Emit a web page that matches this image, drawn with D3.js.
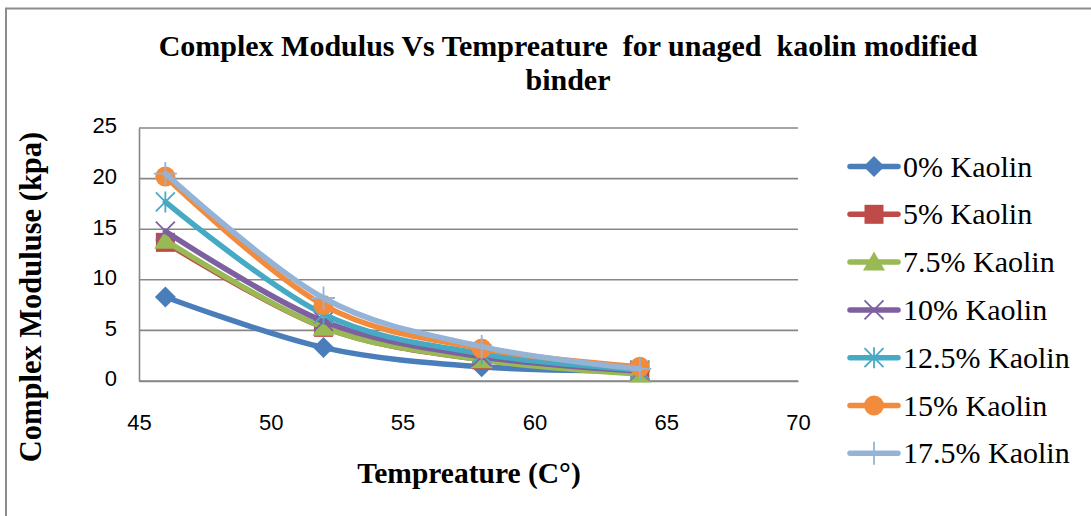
<!DOCTYPE html>
<html>
<head>
<meta charset="utf-8">
<script src="https://cdn.jsdelivr.net/npm/d3@7/dist/d3.min.js"></script>
<style>
  html, body { margin: 0; padding: 0; background: #fff; }
  svg { display: block; }
</style>
</head>
<body>
<svg id="chart" width="1091" height="516"></svg>
<script>
// Test temperatures (°C)
const temperatures = [46, 52, 58, 64];

// Series names
const seriesNames = ["0% Kaolin", "5% Kaolin", "7.5% Kaolin", "10% Kaolin",
                     "12.5% Kaolin", "15% Kaolin", "17.5% Kaolin"];

// Complex modulus (kPa) per series, one value per temperature
const kaolin0   = [8.3, 3.3, 1.4, 1.0];
const kaolin5   = [13.7, 5.3, 2.1, 0.9];
const kaolin75  = [13.9, 5.3, 2.1, 0.7];
const kaolin10  = [14.8, 5.9, 2.4, 1.0];
const kaolin125 = [17.7, 6.6, 2.7, 1.1];
const kaolin15  = [20.2, 7.5, 3.2, 1.4];
const kaolin175 = [20.5, 8.2, 3.4, 1.2];

// Axis tick labels
const xTicks = [45, 50, 55, 60, 65, 70];
const yTicks = [0, 5, 10, 15, 20, 25];

const seriesValues = [kaolin0, kaolin5, kaolin75, kaolin10, kaolin125, kaolin15, kaolin175];
const colors  = ["#4A7EBB", "#BE4B48", "#98B954", "#7D60A0", "#46AAC5", "#F38B3C", "#95B3D7"];
const symbols = ["diamond", "square", "triangle", "x", "star", "circle", "plus"];

const svg = d3.select("#chart");
const W = 1091, H = 516;
const plot = { left: 139, right: 798, top: 128, bottom: 381 };

// Outer chart frame
svg.append("rect")
  .attr("x", 6).attr("y", 8.5)
  .attr("width", W + 20).attr("height", H + 20)
  .attr("fill", "#fff").attr("stroke", "#8c8c8c").attr("stroke-width", 2);

const x = d3.scaleLinear().domain([45, 70]).range([plot.left, plot.right]);
const y = d3.scaleLinear().domain([0, 25]).range([plot.bottom, plot.top]);

// Horizontal gridlines
svg.append("g").selectAll("line").data(yTicks).join("line")
  .attr("x1", plot.left).attr("x2", plot.right)
  .attr("y1", d => y(d)).attr("y2", d => y(d))
  .attr("stroke", "#878787").attr("stroke-width", 1.6);

// Axes (labels only, no tick marks)
const gx = svg.append("g").attr("transform", `translate(0,${plot.bottom})`)
  .call(d3.axisBottom(x).tickValues(xTicks).tickSize(0).tickPadding(33));
const gy = svg.append("g").attr("transform", `translate(${plot.left},0)`)
  .call(d3.axisLeft(y).tickValues(yTicks).tickSize(0).tickPadding(22));
[gx, gy].forEach(g => {
  g.select(".domain").attr("stroke", "#878787").attr("stroke-width", 1.6);
  g.selectAll("text")
    .attr("font-family", "'Liberation Sans', Arial, sans-serif")
    .attr("font-size", 22).attr("fill", "#000");
});
gy.selectAll("text").attr("dy", "0.22em");

// Marker drawing
function drawMarker(g, type, color, s) {
  s = s || 1;
  if (type === "diamond") {
    g.append("path").attr("d", `M0,${-10.5*s}L${10.5*s},0L0,${10.5*s}L${-10.5*s},0Z`).attr("fill", color);
  } else if (type === "square") {
    g.append("rect").attr("x", -9.5*s).attr("y", -9.5*s).attr("width", 19*s).attr("height", 19*s).attr("fill", color);
  } else if (type === "triangle") {
    g.append("path").attr("d", `M0,${-10.5*s}L${11*s},${8.5*s}L${-11*s},${8.5*s}Z`).attr("fill", color);
  } else if (type === "circle") {
    g.append("circle").attr("r", 10*s).attr("fill", color);
  } else if (type === "x") {
    g.append("path").attr("d", `M${-9.5*s},${-9.5*s}L${9.5*s},${9.5*s}M${9.5*s},${-9.5*s}L${-9.5*s},${9.5*s}`)
      .attr("stroke", color).attr("stroke-width", 1.8).attr("fill", "none");
  } else if (type === "star") {
    g.append("path").attr("d", `M${-9.5*s},${-9.5*s}L${9.5*s},${9.5*s}M${9.5*s},${-9.5*s}L${-9.5*s},${9.5*s}M0,${-10.5*s}L0,${10.5*s}`)
      .attr("stroke", color).attr("stroke-width", 1.8).attr("fill", "none");
  } else if (type === "plus") {
    g.append("path").attr("d", `M0,${-11.5*s}L0,${11.5*s}M${-11.5*s},0L${11.5*s},0`)
      .attr("stroke", color).attr("stroke-width", 1.8).attr("fill", "none");
  }
}

// Smoothed series lines
const line = d3.line()
  .x((d, i) => x(temperatures[i]))
  .y(d => y(d))
  .curve(d3.curveCatmullRom.alpha(0));

const seriesG = svg.append("g");
seriesValues.forEach((vals, si) => {
  const g = seriesG.append("g");
  g.append("path").datum(vals).attr("d", line)
    .attr("fill", "none").attr("stroke", colors[si])
    .attr("stroke-width", 5.5).attr("stroke-linecap", "round").attr("stroke-linejoin", "round");
  vals.forEach((v, i) => {
    const m = g.append("g").attr("transform", `translate(${x(temperatures[i])},${y(v)})`);
    drawMarker(m, symbols[si], colors[si]);
  });
});

// Title
const title = svg.append("text")
  .attr("x", 568).attr("text-anchor", "middle")
  .attr("font-family", "'Liberation Serif', 'Times New Roman', serif")
  .attr("font-weight", "bold").attr("font-size", 30)
  .style("white-space", "pre");
title.append("tspan").attr("x", 568).attr("y", 56).text("Complex Modulus Vs Tempreature  for unaged  kaolin modified");
title.append("tspan").attr("x", 568).attr("y", 90).text("binder");

// Axis titles
svg.append("text")
  .attr("x", 469).attr("y", 483).attr("text-anchor", "middle")
  .attr("font-family", "'Liberation Serif', 'Times New Roman', serif")
  .attr("font-weight", "bold").attr("font-size", 29.5)
  .text("Tempreature (C°)");
svg.append("text")
  .attr("transform", "translate(41,297) rotate(-90)").attr("text-anchor", "middle")
  .attr("font-family", "'Liberation Serif', 'Times New Roman', serif")
  .attr("font-weight", "bold").attr("font-size", 30.5)
  .text("Complex Moduluse (kpa)");

// Legend
const legend = svg.append("g");
seriesNames.forEach((name, i) => {
  const cy = 166.5 + i * 47.8;
  const g = legend.append("g").attr("transform", `translate(0,${cy})`);
  g.append("line").attr("x1", 850).attr("x2", 898).attr("y1", 0).attr("y2", 0)
    .attr("stroke", colors[i]).attr("stroke-width", 5.5).attr("stroke-linecap", "round");
  const m = g.append("g").attr("transform", "translate(874,0)");
  drawMarker(m, symbols[i], colors[i]);
  g.append("text").attr("x", 903).attr("y", 10)
    .attr("font-family", "'Liberation Serif', 'Times New Roman', serif")
    .attr("font-size", 30).attr("fill", "#000")
    .text(name);
});
</script>
</body>
</html>
